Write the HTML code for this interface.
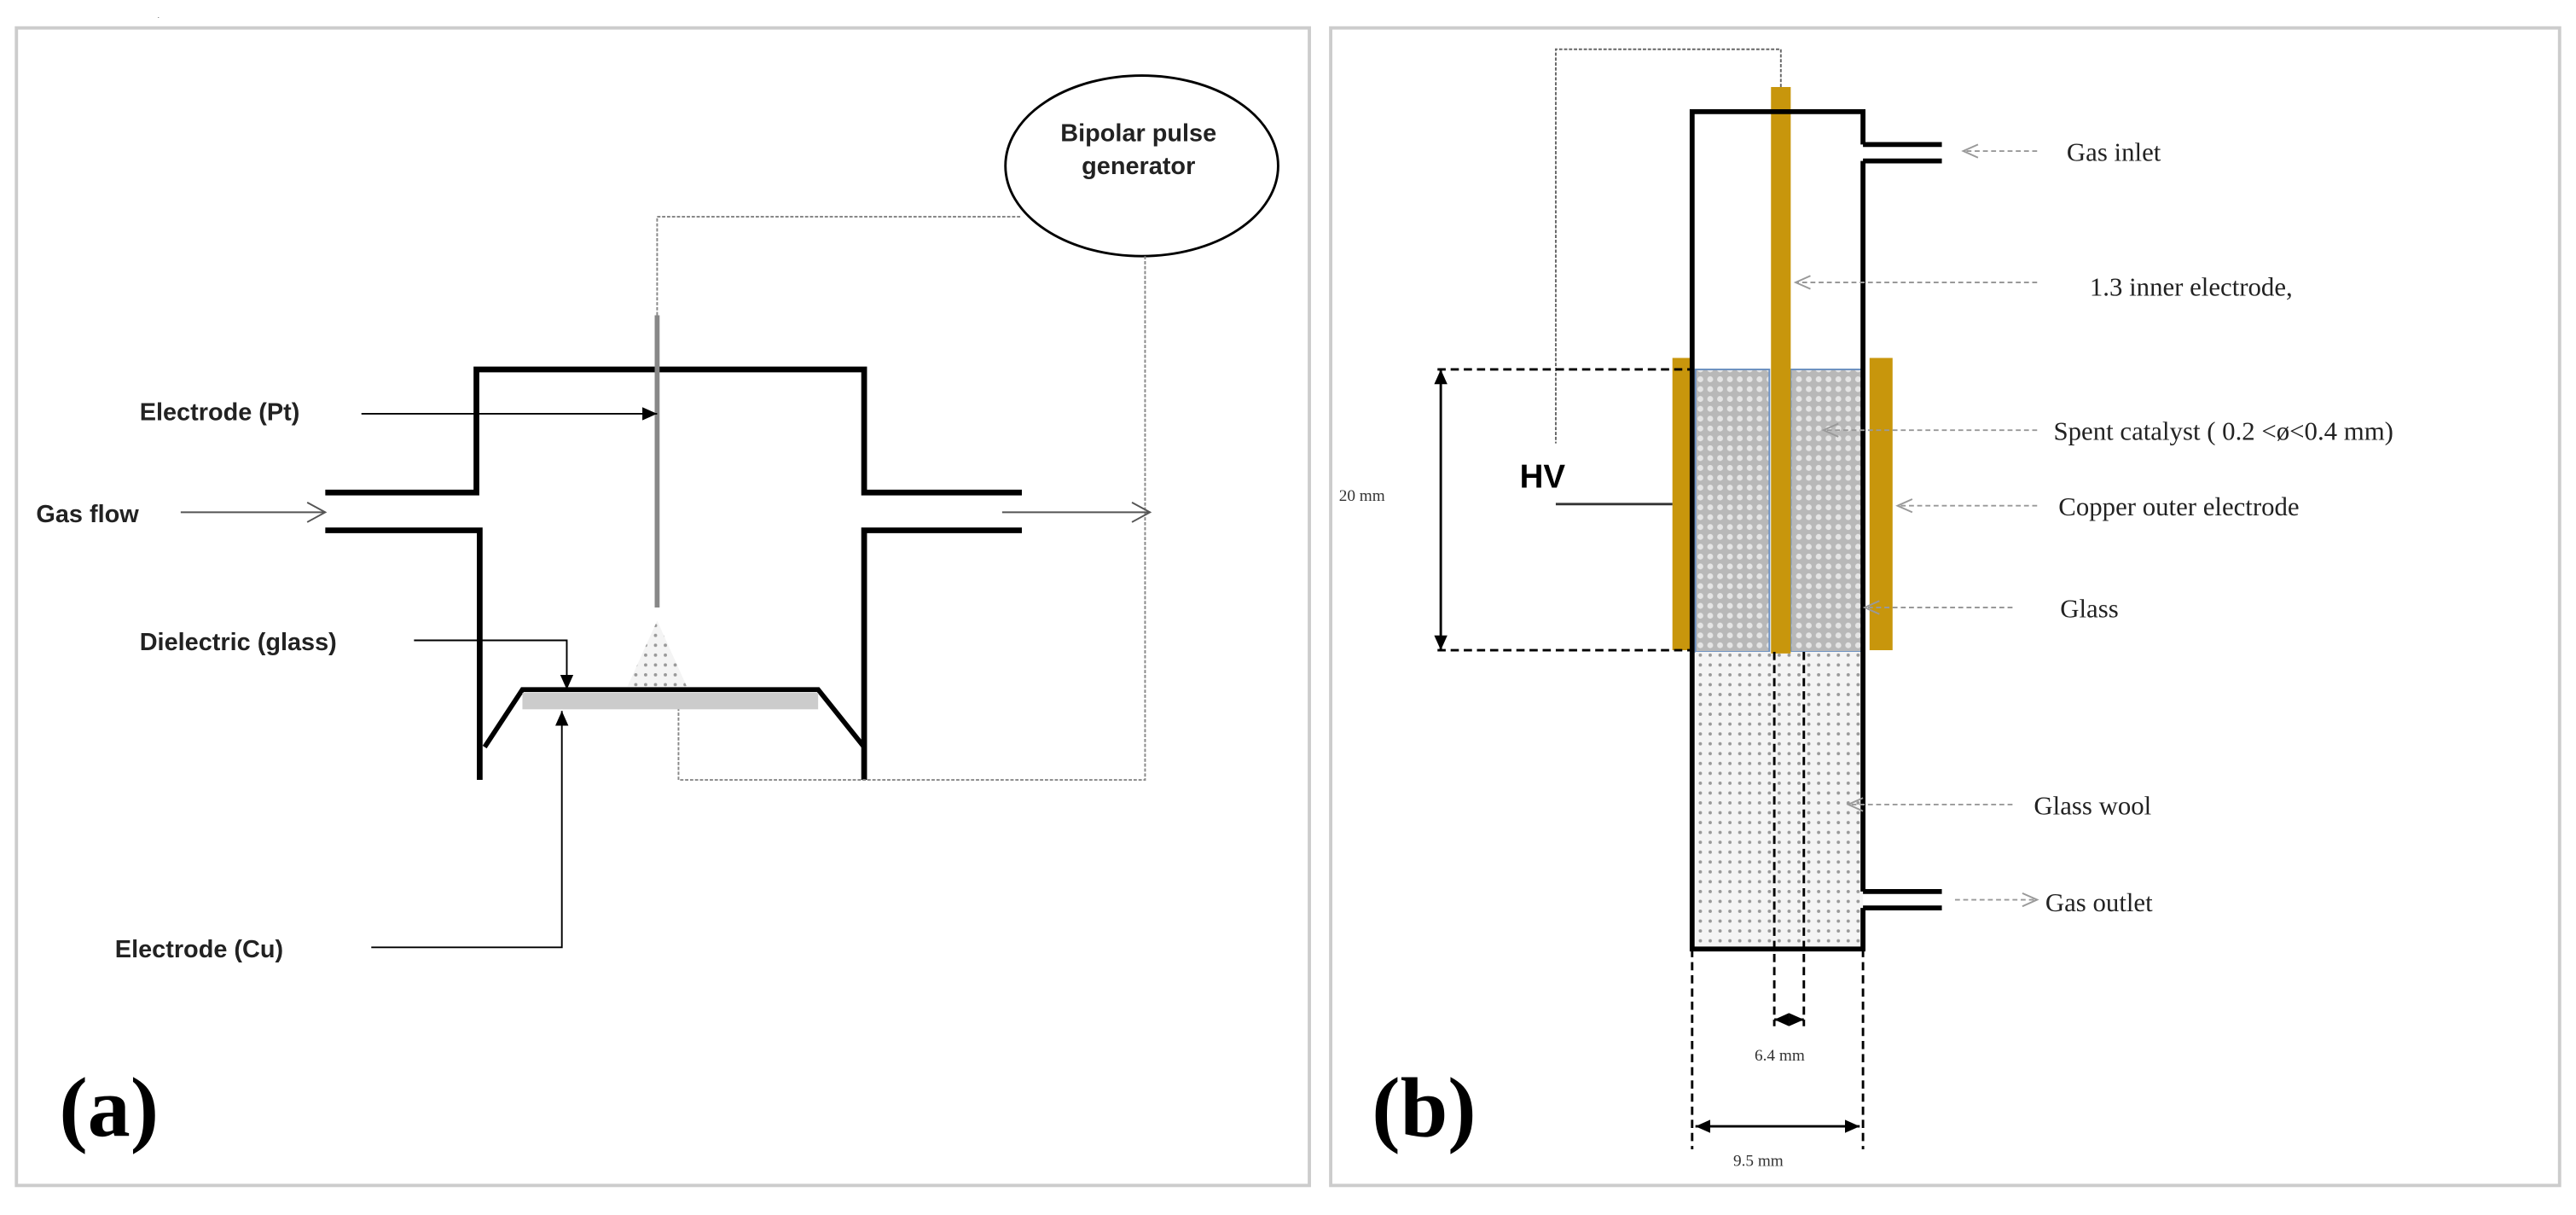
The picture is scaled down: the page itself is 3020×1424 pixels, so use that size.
<!DOCTYPE html>
<html><head><meta charset="utf-8"><style>html,body{margin:0;padding:0;background:#fff}svg{display:block}</style></head>
<body>
<svg width="3020" height="1424" viewBox="0 0 1568 740" preserveAspectRatio="none" xmlns="http://www.w3.org/2000/svg">
<defs>
<pattern id="cat" width="6" height="6" patternUnits="userSpaceOnUse"><rect width="6" height="6" fill="#b8b8b8"/><circle cx="3" cy="3" r="1.8" fill="#e4e4e4"/></pattern>
<pattern id="wool" width="6" height="6" patternUnits="userSpaceOnUse"><rect width="6" height="6" fill="#f4f4f4"/><circle cx="3" cy="3" r="1" fill="#999"/></pattern>
<marker id="fa" markerWidth="10" markerHeight="10" refX="9" refY="5" orient="auto-start-reverse" markerUnits="userSpaceOnUse"><path d="M0,1 L9,5 L0,9Z" fill="#000"/></marker>
<marker id="oa" markerWidth="14" markerHeight="14" refX="12" refY="7" orient="auto" markerUnits="userSpaceOnUse"><path d="M1,1 L12,7 L1,13" fill="none" stroke="#555" stroke-width="1"/></marker>
<marker id="ga" markerWidth="12" markerHeight="12" refX="10" refY="6" orient="auto" markerUnits="userSpaceOnUse"><path d="M1,2 L10,6 L1,10" fill="none" stroke="#999" stroke-width="1"/></marker>
</defs>
<rect x="10" y="17" width="787" height="705" fill="none" stroke="#ccc" stroke-width="2"/>
<rect x="810" y="17" width="748" height="705" fill="none" stroke="#ccc" stroke-width="2"/>
<text x="96" y="11" font-size="4">.</text>
<!-- panel a -->
<g font-family="Liberation Sans, sans-serif" font-weight="bold" font-size="15" fill="#222">
<text x="22" y="318">Gas flow</text>
<text x="85" y="256">Electrode (Pt)</text>
<text x="85" y="396">Dielectric (glass)</text>
<text x="70" y="583">Electrode (Cu)</text>
<text x="693" y="86" text-anchor="middle">Bipolar pulse</text>
<text x="693" y="106" text-anchor="middle">generator</text>
</g>
<g fill="none" stroke="#000" stroke-width="3.5">
<path d="M198,300 H290 V225 H526 V300 H622"/>
<path d="M198,323 H292 V475"/>
<path d="M622,323 H526 V475"/>
<path d="M295,455 L318,420 H498 L526,455" stroke-width="3"/>
</g>
<rect x="318" y="422" width="180" height="10" fill="#ccc"/>
<line x1="400" y1="192" x2="400" y2="370" stroke="#888" stroke-width="3"/>
<path d="M400,378 L382,418 H418Z" fill="url(#wool)"/>
<ellipse cx="695" cy="101" rx="83" ry="55" fill="none" stroke="#000" stroke-width="1.5"/>
<g fill="none" stroke="#888" stroke-width="1" stroke-dasharray="2,1">
<path d="M400,192 V132 H622"/>
<path d="M697,156 V475 H413 V432"/>
</g>
<g stroke="#555" stroke-width="1" fill="none">
<line x1="110" y1="312" x2="198" y2="312" marker-end="url(#oa)"/>
<line x1="610" y1="312" x2="700" y2="312" marker-end="url(#oa)"/>
<line x1="220" y1="252" x2="400" y2="252" stroke="#000" marker-end="url(#fa)"/>
<path d="M252,390 H345 V420" stroke="#000" marker-end="url(#fa)"/>
<path d="M226,577 H342 V433" stroke="#000" marker-end="url(#fa)"/>
</g>
<text x="36" y="692" font-family="Liberation Serif, serif" font-weight="bold" font-size="52">(a)</text>
<!-- panel b -->
<rect x="1032" y="225" width="45" height="172" fill="url(#cat)" stroke="#6a8fc0" stroke-width="1"/>
<rect x="1090" y="225" width="44" height="172" fill="url(#cat)" stroke="#6a8fc0" stroke-width="1"/>
<rect x="1032" y="397" width="102" height="181" fill="url(#wool)"/>
<rect x="1078" y="53" width="12" height="345" fill="#c8960c"/>
<rect x="1018" y="218" width="12" height="178" fill="#c8960c"/>
<rect x="1138" y="218" width="14" height="178" fill="#c8960c"/>
<g fill="none" stroke="#000" stroke-width="3">
<path d="M1134,88 V68 H1030 V578 H1134 V553"/>
<path d="M1134,98 V543"/>
<path d="M1134,88 H1182 M1134,98 H1182 M1134,543 H1182 M1134,553 H1182"/>
</g>
<path d="M1084,53 V30 H947 V270" fill="none" stroke="#666" stroke-width="1" stroke-dasharray="2,1"/>
<line x1="947" y1="307" x2="1018" y2="307" stroke="#333" stroke-width="1.5"/>
<text x="925" y="297" font-family="Liberation Sans, sans-serif" font-weight="bold" font-size="20">HV</text>
<g fill="none" stroke="#000" stroke-width="1.5" stroke-dasharray="5,3">
<path d="M875,225 H1030 M875,396 H1030"/>
<path d="M1080,397 V625 M1098,397 V625"/>
<path d="M1030,578 V700 M1134,578 V700"/>
</g>
<g stroke="#000" stroke-width="1.5">
<line x1="877" y1="225" x2="877" y2="396" marker-start="url(#fa)" marker-end="url(#fa)"/>
<line x1="1080" y1="621" x2="1098" y2="621" marker-start="url(#fa)" marker-end="url(#fa)"/>
<line x1="1032" y1="686" x2="1132" y2="686" marker-start="url(#fa)" marker-end="url(#fa)"/>
</g>
<g font-family="Liberation Serif, serif" font-size="10" fill="#333">
<text x="815" y="305">20 mm</text>
<text x="1068" y="646">6.4 mm</text>
<text x="1055" y="710">9.5 mm</text>
</g>
<g stroke="#999" stroke-width="1" stroke-dasharray="3,2" fill="none">
<line x1="1240" y1="92" x2="1195" y2="92" marker-end="url(#ga)"/>
<line x1="1240" y1="172" x2="1093" y2="172" marker-end="url(#ga)"/>
<line x1="1240" y1="262" x2="1110" y2="262" marker-end="url(#ga)"/>
<line x1="1240" y1="308" x2="1155" y2="308" marker-end="url(#ga)"/>
<line x1="1225" y1="370" x2="1135" y2="370" marker-end="url(#ga)"/>
<line x1="1225" y1="490" x2="1125" y2="490" marker-end="url(#ga)"/>
<line x1="1190" y1="548" x2="1240" y2="548" marker-end="url(#ga)"/>
</g>
<g font-family="Liberation Serif, serif" font-size="16" fill="#222">
<text x="1258" y="98">Gas inlet</text>
<text x="1272" y="180">1.3 inner  electrode,</text>
<text x="1250" y="268">Spent catalyst ( 0.2 &lt;ø&lt;0.4 mm)</text>
<text x="1253" y="314">Copper outer electrode</text>
<text x="1254" y="376">Glass</text>
<text x="1238" y="496">Glass wool</text>
<text x="1245" y="555">Gas outlet</text>
</g>
<text x="835" y="692" font-family="Liberation Serif, serif" font-weight="bold" font-size="52">(b)</text>
</svg>
</body></html>
